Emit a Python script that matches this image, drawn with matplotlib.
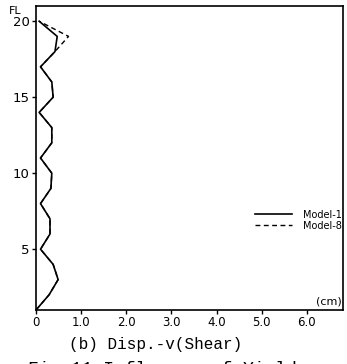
import matplotlib
matplotlib.use("Agg")
import matplotlib.pyplot as plt

# storey levels and displacement (cm)
floors = list(range(1, 21))
disp_model1 = [0.0, 0.29, 0.49, 0.38, 0.1, 0.31, 0.31, 0.1, 0.33, 0.35,
               0.1, 0.35, 0.35, 0.07, 0.38, 0.35, 0.1, 0.42, 0.47, 0.07]
disp_model8 = [0.0, 0.29, 0.49, 0.38, 0.1, 0.31, 0.31, 0.1, 0.33, 0.35,
               0.1, 0.35, 0.35, 0.07, 0.38, 0.35, 0.1, 0.42, 0.72, 0.07]

xticks = [0, 1, 2, 3, 4, 5, 6]
xticklabels = ["0", "1.0", "2.0", "3.0", "4.0", "5.0", "6.0"]
yticks = [5, 10, 15, 20]

TICK_FONT = ["DejaVu Sans"]
MONO_FONT = ["Liberation Mono", "DejaVu Sans Mono"]

fig = plt.figure(figsize=(3.47, 3.64), dpi=100)
ax = fig.add_axes([36 / 347, 54 / 364, 307 / 347, 304 / 364])

ax.plot(disp_model1, floors, color="black", linewidth=1.2, label="Model-1")
ax.plot(disp_model8, floors, color="black", linewidth=1.0,
        linestyle=(0, (3.5, 2.5)), label="Model-8")

ax.set_xlim(0, 6.8)
ax.set_ylim(1, 21)
ax.set_xticks(xticks)
ax.set_xticklabels(xticklabels, family=TICK_FONT, fontsize=8.5)
ax.set_yticks(yticks)
ax.set_yticklabels([str(v) for v in yticks], family=TICK_FONT, fontsize=9.5)
ax.tick_params(axis="both", direction="out", length=3, width=1, pad=1.5)

for s in ax.spines.values():
    s.set_linewidth(1.2)

ax.text(-0.068, 0.985, "FL", transform=ax.transAxes, ha="center", va="center",
        family=TICK_FONT, fontsize=8)
ax.text(0.995, 0.012, "(cm)", transform=ax.transAxes, ha="right", va="bottom",
        family=TICK_FONT, fontsize=8)

leg = ax.legend(loc="center right", bbox_to_anchor=(0.995, 0.296),
                frameon=False, prop={"family": TICK_FONT, "size": 7},
                handlelength=3.8, handletextpad=1.1, labelspacing=0.1,
                borderpad=0, borderaxespad=0)

fig.text(156 / 347, 1 - 345 / 364, "(b) Disp.-v(Shear)", ha="center",
         va="center", family=MONO_FONT, fontsize=11.5)
fig.text(28 / 347, 1 - 369 / 364, "Fig.11 Influence of Yield", ha="left",
         va="center", family=MONO_FONT, fontsize=13)

fig.savefig("out.png", dpi=100)
